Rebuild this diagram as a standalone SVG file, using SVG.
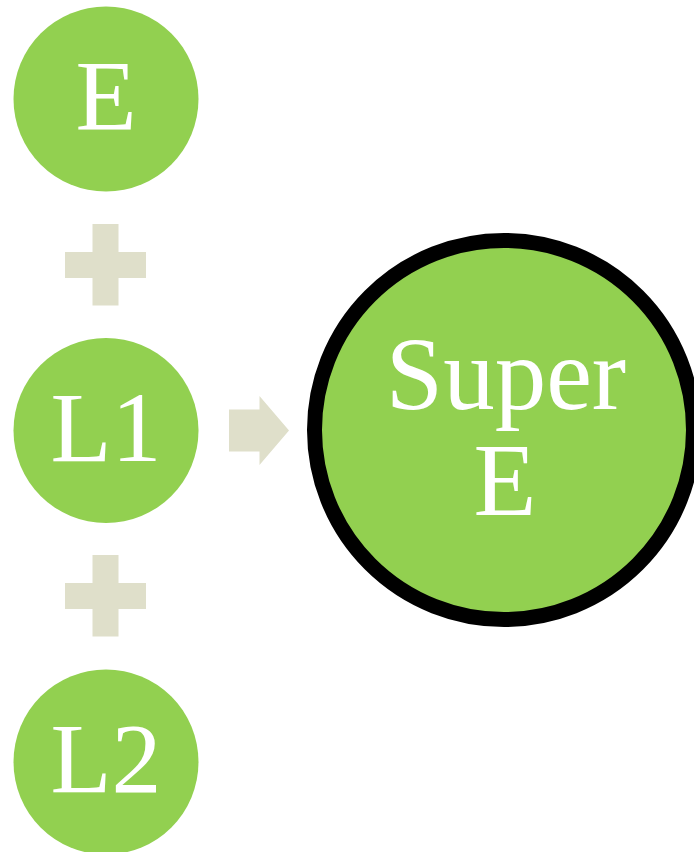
<svg xmlns="http://www.w3.org/2000/svg" width="694" height="852" viewBox="0 0 694 852">
<style>
.n{fill:#92D050}
.t{fill:#fff;font-family:"Liberation Serif","Times New Roman",serif;font-size:100px;text-anchor:middle}
.c{fill:#DFDFCA}
</style>
<rect width="694" height="852" fill="#fff"/>
<g id="connectors">
<path class="c" d="M92.5,224H118.5V252H146V278H118.5V305.5H92.5V278H65V252H92.5Z"/>
<path class="c" d="M92.5,555H118.5V583H146V609H118.5V636.5H92.5V609H65V583H92.5Z"/>
<path class="c" d="M229,409.5H259.5V396L289,430.5L259.5,465V451.5H229Z"/>
</g>
<g id="node-E"><circle class="n" cx="106" cy="99" r="92.5"/><text class="t" x="106" y="129">E</text></g>
<g id="node-L1"><circle class="n" cx="106" cy="430.5" r="92.5"/><text class="t" x="106" y="461">L1</text></g>
<g id="node-L2"><circle class="n" cx="106" cy="762" r="92.5"/><text class="t" x="106" y="792">L2</text></g>
<g id="node-SuperE"><circle class="n" cx="504" cy="430" r="189.5" stroke="#000" stroke-width="15"/>
<text class="t" x="506" y="409" style="font-size:103px">Super</text>
<text class="t" x="505" y="515" style="font-size:103px">E</text></g>
</svg>
